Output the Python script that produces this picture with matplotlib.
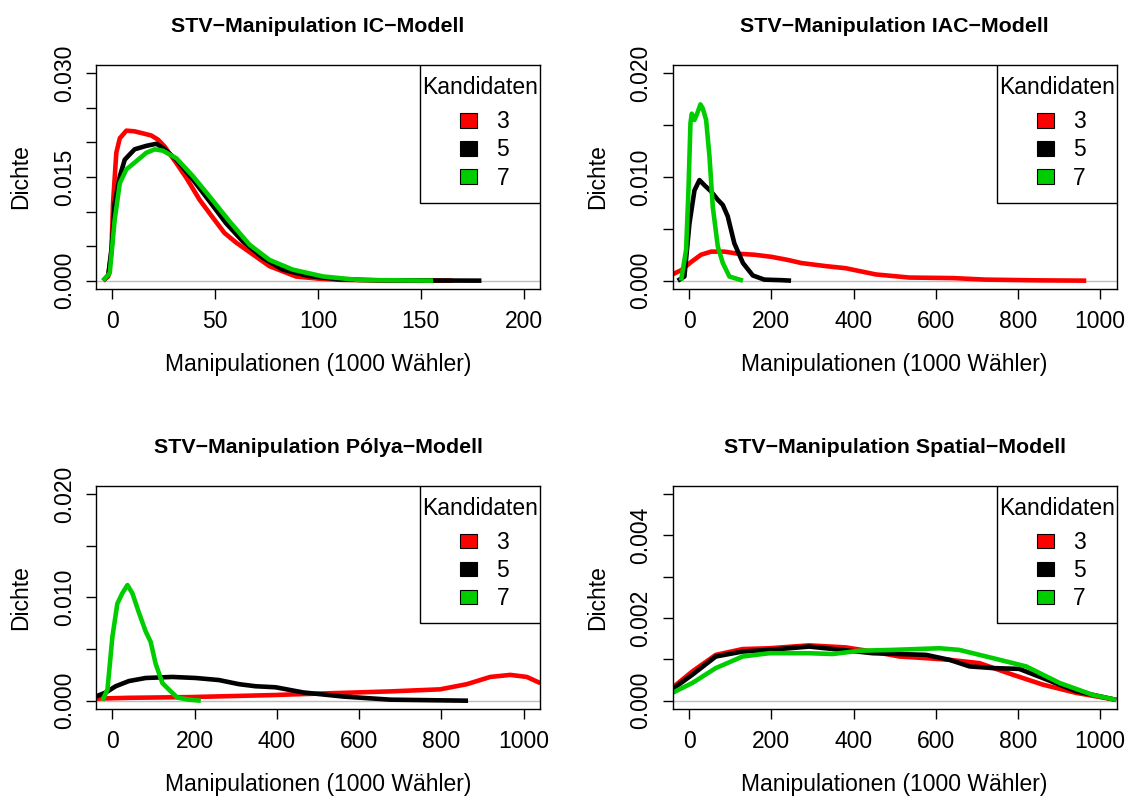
import matplotlib
matplotlib.use("Agg")
import matplotlib.pyplot as plt
from matplotlib.patches import Patch, Rectangle

plt.rcParams['font.family'] = ['Liberation Sans', 'DejaVu Sans']

# colours as in R: red, black, green3
COLS = ["#FF0000", "#000000", "#00CD00"]
KANDIDATEN = ["3", "5", "7"]

# --- IC-Modell (x in 1000 Waehler, y = Dichte)
ic_x3 = [-4.5, -2.1, -0.5, 0.3, 1.9, 3.6, 6.8, 10.8, 14.9, 18.9, 22.2, 25.4, 31.1, 35.9, 42.4,
         48.9, 54.5, 60.2, 68.3, 76.4, 89.3, 100, 110.7, 130, 165.4]
ic_y3 = [0, 0.0006, 0.0040, 0.0112, 0.0185, 0.0206, 0.0217, 0.0216, 0.0213, 0.0210, 0.0204, 0.0194,
         0.0170, 0.0149, 0.0117, 0.0091, 0.0069, 0.0055, 0.0038, 0.0021, 0.0006, 0.0003, 0.00012, 0.00003, 0]
ic_x5 = [-4.5, -2.0, -0.3, 1.1, 3.6, 6.0, 10.8, 16.5, 21.4, 24.6, 31.1, 39.2, 47.2, 55.3, 63.4,
         73.2, 82.9, 95, 110, 130, 179.5]
ic_y5 = [0, 0.0008, 0.0050, 0.0112, 0.0151, 0.0175, 0.0190, 0.0195, 0.0198, 0.0192, 0.0175, 0.0146,
         0.0115, 0.0083, 0.0057, 0.0033, 0.0016, 0.0007, 0.0002, 0.00005, 0]
ic_x7 = [-4.5, -1.3, 1.1, 3.6, 6.8, 11.7, 16.5, 20.6, 24.6, 31.1, 39.2, 47.2, 56.9, 66.7, 76.4,
         87.7, 102.6, 120, 156]
ic_y7 = [0, 0.0011, 0.0088, 0.0141, 0.0161, 0.0173, 0.0185, 0.0190, 0.0188, 0.0177, 0.0151, 0.0122,
         0.0086, 0.0052, 0.0030, 0.0016, 0.0006, 0.0001, 0]

# --- IAC-Modell
iac_x3 = [-43.8, -19.5, 4.9, 29, 53.6, 86, 118.5, 159, 200, 240, 273, 333, 381, 454, 536, 641, 722, 850, 966]
iac_y3 = [0.00055, 0.0010, 0.0018, 0.0025, 0.0028, 0.0028, 0.0026, 0.0025, 0.0023, 0.0020, 0.0017,
          0.0014, 0.0012, 0.0006, 0.0003, 0.00025, 0.0001, 0.00003, 0]
iac_x5 = [-27.6, -11.4, 0.8, 13, 25.2, 37.4, 53.6, 69.8, 82, 94, 110, 131, 155, 183, 224, 248]
iac_y5 = [0, 0.0004, 0.0055, 0.0087, 0.0097, 0.0092, 0.0086, 0.0078, 0.0073, 0.0062, 0.0036, 0.0017,
          0.0005, 0.0001, 0.00005, 0]
iac_x7 = [-19.5, -7.3, -1.6, 3.3, 6.5, 13, 19.5, 27.6, 33.3, 41.4, 49.5, 57.6, 69.8, 82, 98, 131]
iac_y7 = [0, 0.0030, 0.0087, 0.0152, 0.0161, 0.0155, 0.0161, 0.0170, 0.0166, 0.0155, 0.0120, 0.0071,
          0.0033, 0.0017, 0.0004, 0]

# --- Polya-Modell
pol_x3 = [-40.6, 40, 188, 397, 431, 675, 797, 862, 919, 968, 1008, 1041]
pol_y3 = [0.0002, 0.00028, 0.00035, 0.00055, 0.0006, 0.0009, 0.0011, 0.0016, 0.0023, 0.0025, 0.0023, 0.0017]
pol_x5 = [-40.6, -16, 8, 40, 81, 146, 202.5, 259, 308, 348, 397, 464, 562, 676, 865]
pol_y5 = [0.0004, 0.0008, 0.0014, 0.0019, 0.0022, 0.0023, 0.0022, 0.0020, 0.0016, 0.0014, 0.0013,
          0.0008, 0.0004, 0.0001, 0]
pol_x7 = [-24.3, -12, 0, 12, 24, 36.5, 48.6, 64.7, 81, 93, 105, 121.6, 142, 158, 186, 215]
pol_y7 = [0, 0.0011, 0.0062, 0.0094, 0.0104, 0.0112, 0.0104, 0.0085, 0.0067, 0.0057, 0.0036, 0.0017,
          0.0009, 0.0003, 0.0001, 0]

# --- Spatial-Modell
sp_x3 = [-44.6, 8, 65, 130, 195, 292, 381, 446, 511, 576, 633, 706, 787, 860, 941, 1039]
sp_y3 = [0.00028, 0.00071, 0.00111, 0.00125, 0.00127, 0.00134, 0.00129, 0.00119, 0.00107, 0.00103,
         0.00099, 0.00091, 0.00063, 0.00039, 0.00019, 0.00002]
sp_x5 = [-44.6, 8, 65, 130, 195, 292, 381, 446, 511, 576, 633, 682, 739, 803, 860, 941, 1039]
sp_y5 = [0.00025, 0.00063, 0.00107, 0.00119, 0.00123, 0.00131, 0.00122, 0.00115, 0.00113, 0.00111,
         0.00099, 0.00083, 0.00079, 0.00077, 0.00055, 0.00023, 0.00002]
sp_x7 = [-44.6, 8, 65, 130, 195, 292, 349, 414, 495, 609, 657, 739, 820, 901, 982, 1039]
sp_y7 = [0.00017, 0.00043, 0.00079, 0.00107, 0.00115, 0.00115, 0.00113, 0.00121, 0.00123, 0.00127,
         0.00123, 0.00103, 0.00083, 0.00043, 0.00014, 0.00002]

panels = [
    ("STV\u2212Manipulation IC\u2212Modell", [(ic_x3, ic_y3), (ic_x5, ic_y5), (ic_x7, ic_y7)],
     (0, 200), [0, 50, 100, 150, 200], (0, 0.03), 0.005, ["0.000", "0.015", "0.030"]),
    ("STV\u2212Manipulation IAC\u2212Modell", [(iac_x3, iac_y3), (iac_x5, iac_y5), (iac_x7, iac_y7)],
     (0, 1000), [0, 200, 400, 600, 800, 1000], (0, 0.02), 0.005, ["0.000", "0.010", "0.020"]),
    ("STV\u2212Manipulation P\u00f3lya\u2212Modell", [(pol_x3, pol_y3), (pol_x5, pol_y5), (pol_x7, pol_y7)],
     (0, 1000), [0, 200, 400, 600, 800, 1000], (0, 0.02), 0.005, ["0.000", "0.010", "0.020"]),
    ("STV\u2212Manipulation Spatial\u2212Modell", [(sp_x3, sp_y3), (sp_x5, sp_y5), (sp_x7, sp_y7)],
     (0, 1000), [0, 200, 400, 600, 800, 1000], (0, 0.005), 0.001, ["0.000", "0.002", "0.004"]),
]

# axes boxes in figure fractions (left, bottom, width, height)
boxes = [
    [0.0850, 0.6388, 0.3933, 0.2800],
    [0.5958, 0.6388, 0.3933, 0.2800],
    [0.0850, 0.1138, 0.3933, 0.2788],
    [0.5958, 0.1138, 0.3933, 0.2788],
]

FS = 16.5

fig = plt.figure(figsize=(11.29, 8), dpi=100)

for box, (title, series, xr, xt, yr, ystep, ylabs) in zip(boxes, panels):
    ax = fig.add_axes(box)
    # R style 4% range extension
    dx = (xr[1] - xr[0]) * 0.04
    dy = (yr[1] - yr[0]) * 0.04
    ax.set_xlim(xr[0] - dx, xr[1] + dx)
    ax.set_ylim(yr[0] - dy, yr[1] + dy)

    ax.axhline(0, color="#BEBEBE", lw=1, zorder=1)
    for (x, y), c in zip(series, COLS):
        ax.plot(x, y, color=c, lw=3.3, solid_capstyle="butt", zorder=2)

    ax.set_xticks(xt)
    ax.set_xticklabels([str(v) for v in xt])
    nt = int(round((yr[1] - yr[0]) / ystep)) + 1
    yt = [yr[0] + i * ystep for i in range(nt)]
    ax.set_yticks(yt)
    labs = []
    for v in yt:
        s = "%.3f" % v
        labs.append(s if s in ylabs else "")
    ax.set_yticklabels(labs)
    plt.setp(ax.get_yticklabels(), rotation=90, va="center")

    ax.tick_params(direction="out", length=7.5, width=1, labelsize=FS, pad=7)
    ax.tick_params(axis="x", pad=8)
    for sp in ax.spines.values():
        sp.set_linewidth(1)

    ax.set_title(title, fontsize=15.4, fontweight="bold", pad=24)
    ax.set_xlabel("Manipulationen (1000 W\u00e4hler)", fontsize=FS, labelpad=14)
    ax.set_ylabel("Dichte", fontsize=FS, labelpad=15)

    # R-like legend: framed box in the top right corner, title above the keys
    ax.add_patch(Rectangle((0.7297, 0.384), 0.2703, 0.616, transform=ax.transAxes,
                           facecolor="white", edgecolor="black", lw=1, zorder=3))
    ax.text(0.8649, 0.901, "Kandidaten", transform=ax.transAxes, ha="center", va="center",
            fontsize=FS, zorder=4)
    handles = [Patch(facecolor=c, edgecolor="black", lw=0.8) for c in COLS]
    leg = ax.legend(handles, KANDIDATEN, loc="center left", bbox_to_anchor=(0.8198, 0.6205),
                    borderaxespad=0, borderpad=0, frameon=False, fontsize=FS,
                    handlelength=0.74, handleheight=0.61, handletextpad=0.85,
                    labelspacing=0.22)
    leg.set_zorder(5)

fig.savefig("out.png", dpi=100)
